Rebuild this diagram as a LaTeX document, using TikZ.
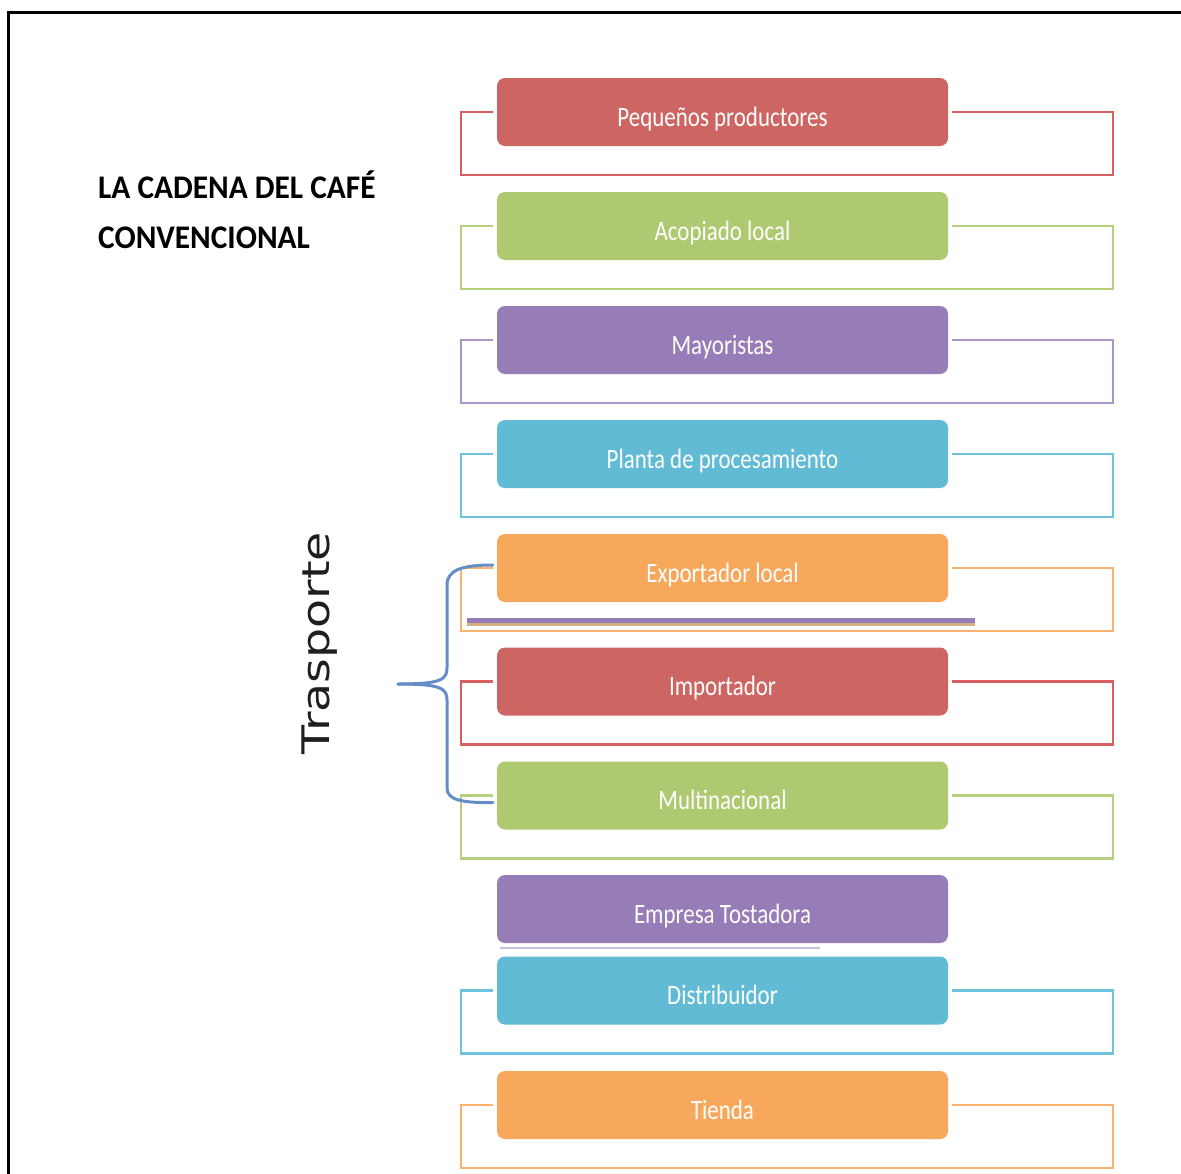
\documentclass[tikz,border=0pt]{standalone}
\usepackage{fontspec}
\setmainfont{Carlito}
\newfontfamily\dvs{DejaVu Sans}
\definecolor{cred}{RGB}{205,102,99}
\definecolor{cgreen}{RGB}{175,201,113}
\definecolor{cpurple}{RGB}{151,125,184}
\definecolor{cblue}{RGB}{98,187,212}
\definecolor{corange}{RGB}{247,168,92}
\definecolor{lred}{RGB}{215,95,95}
\definecolor{lgreen}{RGB}{180,208,125}
\definecolor{lpurple}{RGB}{172,150,200}
\definecolor{lblue}{RGB}{110,196,222}
\definecolor{lorange}{RGB}{250,178,110}
\definecolor{bracecol}{RGB}{100,142,198}
\definecolor{lav}{RGB}{205,190,225}
\definecolor{tan}{RGB}{215,175,130}
\begin{document}
\begin{tikzpicture}[x=1pt,y=-1pt,
  box/.style={rounded corners=8pt, minimum width=451pt, minimum height=68pt,
    inner sep=0pt, text height=34pt, text depth=6pt, text=white,
    font=\fontsize{28}{30}\selectfont},
  brk/.style={line width=2.4pt},
  ttl/.style={anchor=base west, inner sep=0pt, font=\bfseries\fontsize{33}{36}\selectfont}]
\useasboundingbox (0,0) rectangle (1181,1173);
\fill[white] (0,0) rectangle (1181,1173);
\draw[line width=3pt] (8,1175) -- (8,12) -- (1183,12);

\node[ttl] (t1) at (98,198) {\scalebox{0.95}[1]{LA CADENA DEL CAFÉ}};
\node[ttl] (t2) at (98,248) {\scalebox{0.95}[1]{CONVENCIONAL}};

\node[box, fill=cred]    (b1)  at (722.5,112)   {\scalebox{0.82}[1]{Pequeños productores}};
\node[box, fill=cgreen]  (b2)  at (722.5,226)   {\scalebox{0.82}[1]{Acopiado local}};
\node[box, fill=cpurple] (b3)  at (722.5,340)   {\scalebox{0.82}[1]{Mayoristas}};
\node[box, fill=cblue]   (b4)  at (722.5,454)   {\scalebox{0.82}[1]{Planta de procesamiento}};
\node[box, fill=corange] (b5)  at (722.5,568)   {\scalebox{0.82}[1]{Exportador local}};
\node[box, fill=cred]    (b6)  at (722.5,681.5) {\scalebox{0.82}[1]{Importador}};
\node[box, fill=cgreen]  (b7)  at (722.5,795.5) {\scalebox{0.82}[1]{Multinacional}};
\node[box, fill=cpurple] (b8)  at (722.5,909)   {\scalebox{0.82}[1]{Empresa Tostadora}};
\node[box, fill=cblue]   (b9)  at (722.5,990.5) {\scalebox{0.82}[1]{Distribuidor}};
\node[box, fill=corange] (b10) at (722.5,1105)  {\scalebox{0.82}[1]{Tienda}};

\foreach \b/\c in {b1/lred,b2/lgreen,b3/lpurple,b4/lblue,b5/lorange,b6/lred,b7/lgreen,b9/lblue,b10/lorange}{
  \draw[brk, draw=\c] ([xshift=-4pt]\b.west) -- ++(-32,0) -- ++(0,63) -- ++(652,0) -- ++(0,-63) -- ([xshift=4pt]\b.east);
}

\draw[line width=3pt, tan] (467,624.5) -- (975,624.5);
\draw[line width=5pt, cpurple] (467,620.5) -- (975,620.5);
\draw[line width=2pt, lav] (500,948) -- (820,948);

\node[rotate=90, inner sep=0pt, text={rgb,255:red,30;green,30;blue,30}, font=\dvs\fontsize{38}{40}\selectfont] (tr) at (320,643) {\scalebox{1.25}[1]{Trasporte}};

\coordinate (tip) at (398,684);
\draw[bracecol, line width=3pt, line cap=round]
  ([xshift=-4pt,yshift=3pt]b5.west) .. controls (462,565) and (447,570) .. (447,585) -- (447,668)
  .. controls (447,680) and (440,684) .. (tip);
\draw[bracecol, line width=3pt, line cap=round]
  (tip) .. controls (440,684) and (447,688) .. (447,700) -- (447,788)
  .. controls (447,800) and (462,803) .. ([xshift=-4pt,yshift=-7pt]b7.west);
\end{tikzpicture}
\end{document}
